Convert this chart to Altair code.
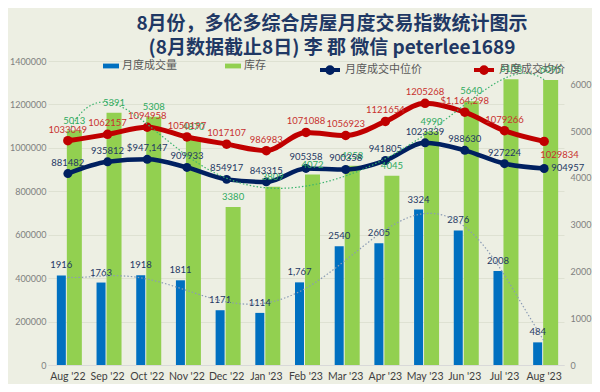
import altair as alt
import pandas as pd

months = ["Aug '22", "Sep '22", "Oct '22", "Nov '22", "Dec '22", "Jan '23", "Feb '23",
          "Mar '23", "Apr '23", "May '23", "Jun '23", "Jul '23", "Aug '23"]
volume = [1916, 1763, 1918, 1811, 1171, 1114, 1767, 2540, 2605, 3324, 2876, 2008, 484]
inventory = [5013, 5391, 5308, 4870, 3380, 3809, 4072, 4258, 4045, 4990, 5640, 6108, 6095]
median = [881482, 935812, 947147, 909933, 854917, 843315, 905358, 900358, 941805,
          1023339, 988630, 927224, 904957]
mean = [1033049, 1062157, 1094958, 1050197, 1017107, 986983, 1071088, 1056923, 1121654,
        1205268, 1164298, 1079266, 1029834]

# labels that the original shows in a different number format
fmt_comma = {("volume", 6)}
fmt_dollar = {("median", 2), ("mean", 10)}


def lab(name, vals):
    out = []
    for i, v in enumerate(vals):
        if (name, i) in fmt_dollar:
            out.append("${:,}".format(v))
        elif (name, i) in fmt_comma:
            out.append("{:,}".format(v))
        else:
            out.append(str(v))
    return out


df = pd.DataFrame({
    "i": list(range(len(months))),
    "month": months,
    "volume": volume,
    "inventory": inventory,
    "median": median,
    "mean": mean,
    "volume_lab": lab("volume", volume),
    "inventory_lab": lab("inventory", inventory),
    "median_lab": lab("median", median),
    "mean_lab": lab("mean", mean),
})

BLUE = "#0070C0"
GREEN = "#92D050"
NAVY = "#002060"
RED = "#C00000"
NUMFONT = "Lato"
CJK = "Noto Sans CJK SC"

xband = alt.Scale(domain=months, paddingInner=0, paddingOuter=0)
x_axis = alt.X("month:O", scale=xband, sort=months, title=None,
               axis=alt.Axis(grid=False, ticks=False, domain=True, domainColor="#D9D9D9",
                             labelAngle=0, labelPadding=6, labelFontSize=10.5,
                             labelColor="#404040", labelFont=NUMFONT))
# numeric x for the polynomial trend lines, aligned to the band centres
x_num = alt.X("i:Q", scale=alt.Scale(domain=[-0.5, len(months) - 0.5], nice=False, zero=False),
              axis=None)

rscale = alt.Scale(domain=[0, 6500], nice=False)
lscale = alt.Scale(domain=[0, 1400000], nice=False)

base = alt.Chart(df)

fill_scale = alt.Scale(domain=["月度成交量", "库存"], range=[BLUE, GREEN])
stroke_scale = alt.Scale(domain=["月度成交中位价", "月度成交均价"], range=[NAVY, RED])

bar_legend = alt.Legend(title=None, orient="none", legendX=55, legendY=-3, direction="horizontal",
                        symbolType="M-1,-0.3H1V0.3H-1Z", symbolSize=256, symbolStrokeWidth=0,
                        labelFont=CJK, labelFontSize=11, labelColor="#595959",
                        columnPadding=48, labelOffset=3)
line_legend = alt.Legend(title=None, orient="none", legendX=270, legendY=-3, direction="horizontal",
                         symbolType="M-1,0H1M0.28,0A0.28,0.28 0 1,1 -0.28,0A0.28,0.28 0 1,1 0.28,0",
                         symbolSize=400, symbolStrokeWidth=4,
                         labelFont=CJK, labelFontSize=11, labelColor="#595959",
                         columnPadding=44, labelOffset=3)

blue_bars = base.mark_bar(width=9, xOffset=-6.5).transform_calculate(
    series="'月度成交量'"
).encode(
    x=x_axis,
    y=alt.Y("volume:Q", scale=rscale, title=None,
            axis=alt.Axis(orient="right", values=[0, 1000, 2000, 3000, 4000, 5000, 6000],
                          format="d", grid=False, ticks=False, domain=False, labelPadding=6,
                          labelFontSize=9, labelColor="#7F7F7F", labelFont=NUMFONT)),
    fill=alt.Fill("series:N", scale=fill_scale, legend=bar_legend),
)

green_bars = base.mark_bar(width=15, xOffset=6.5).transform_calculate(
    series="'库存'"
).encode(
    x=x_axis,
    y=alt.Y("inventory:Q", scale=rscale, axis=None),
    fill=alt.Fill("series:N", scale=fill_scale, legend=bar_legend),
)

vol_trend = base.transform_regression("i", "volume", method="poly", order=6).mark_line(
    color="#8A9BB5", strokeWidth=1.2, strokeDash=[1.5, 2], clip=True
).encode(x=x_num, y=alt.Y("volume:Q", scale=rscale, axis=None))

inv_trend = base.transform_regression("i", "inventory", method="poly", order=6).mark_line(
    color="#3CB46E", strokeWidth=1.2, strokeDash=[1.5, 2], clip=True
).encode(x=x_num, y=alt.Y("inventory:Q", scale=rscale, axis=None))

trends = alt.layer(vol_trend, inv_trend)

vol_text = base.mark_text(font=NUMFONT, fontSize=9.5, color="#1F3864", dy=-10, xOffset=-6.5,
                          baseline="middle").encode(
    x=x_axis, y=alt.Y("volume:Q", scale=rscale, axis=None), text="volume_lab:N")

inv_text = base.mark_text(font=NUMFONT, fontSize=9.5, color="#2EAA5E", dy=-10, xOffset=6.5,
                          baseline="middle").encode(
    x=x_axis, y=alt.Y("inventory:Q", scale=rscale, axis=None), text="inventory_lab:N")

median_line = base.mark_line(strokeWidth=4.5, interpolate="monotone").transform_calculate(
    series="'月度成交中位价'"
).encode(
    x=x_axis,
    y=alt.Y("median:Q", scale=lscale, title=None,
            axis=alt.Axis(orient="left", values=list(range(0, 1400001, 200000)), format="d",
                          grid=True, gridColor="#DEE1D2", gridWidth=1, ticks=False, domain=False,
                          labelPadding=2, labelFontSize=9, labelColor="#7F7F7F",
                          labelFont=NUMFONT)),
    stroke=alt.Stroke("series:N", scale=stroke_scale, legend=line_legend),
)
median_pts = base.mark_circle(size=80, color=NAVY, opacity=1).encode(
    x=x_axis, y=alt.Y("median:Q", scale=lscale, axis=None))

mean_line = base.mark_line(strokeWidth=5, interpolate="monotone").transform_calculate(
    series="'月度成交均价'"
).encode(
    x=x_axis,
    y=alt.Y("mean:Q", scale=lscale, axis=None),
    stroke=alt.Stroke("series:N", scale=stroke_scale, legend=line_legend),
)
mean_pts = base.mark_circle(size=90, color=RED, opacity=1).encode(
    x=x_axis, y=alt.Y("mean:Q", scale=lscale, axis=None))

last = len(months) - 1
median_text = base.transform_filter(f"datum.i < {last}").mark_text(
    font=NUMFONT, fontSize=9.5, color="#1F3864", dy=-11, baseline="middle").encode(
    x=x_axis, y=alt.Y("median:Q", scale=lscale, axis=None), text="median_lab:N")
median_text_last = base.transform_filter(f"datum.i == {last}").mark_text(
    font=NUMFONT, fontSize=9.5, color="#1F3864", dx=7, align="left", baseline="middle").encode(
    x=x_axis, y=alt.Y("median:Q", scale=lscale, axis=None), text="median_lab:N")

mean_text = base.transform_filter(f"datum.i < {last}").mark_text(
    font=NUMFONT, fontSize=9.5, color="#C8312F", dy=-11, baseline="middle").encode(
    x=x_axis, y=alt.Y("mean:Q", scale=lscale, axis=None), text="mean_lab:N")
mean_text_last = base.transform_filter(f"datum.i == {last}").mark_text(
    font=NUMFONT, fontSize=9.5, color="#C8312F", dx=-4, dy=9, align="left", baseline="top").encode(
    x=x_axis, y=alt.Y("mean:Q", scale=lscale, axis=None), text="mean_lab:N")

main = alt.layer(
    blue_bars, green_bars,
    median_line, mean_line, median_pts, mean_pts,
    vol_text, inv_text, median_text, median_text_last, mean_text, mean_text_last,
).resolve_scale(y="independent")

chart = alt.layer(main, trends).resolve_scale(x="independent", y="independent").properties(
    width=516, height=304,
    title=alt.TitleParams(
        text=["8月份，多伦多综合房屋月度交易指数统计图示", "(8月数据截止8日) 李 郡 微信 peterlee1689"],
        font=CJK, fontSize=19, fontWeight="bold", color="#1F3864", anchor="middle",
        dx=26, offset=-1, lineHeight=24),
    autosize=alt.AutoSizeParams(type="none"),
    padding={"left": 40, "top": 53, "right": 28, "bottom": 19},
    background="#EDEFE3",
).configure_view(strokeWidth=0)

chart.save("out.html", embed_options={"renderer": "svg", "actions": False})
